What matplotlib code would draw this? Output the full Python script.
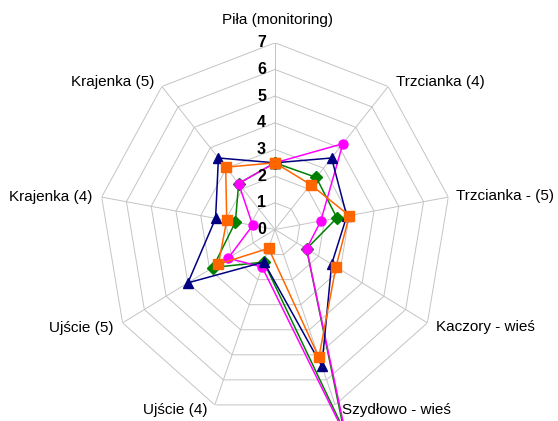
import numpy as np
import matplotlib
matplotlib.use("Agg")
import matplotlib.pyplot as plt

plt.rcParams['font.family'] = ['Liberation Sans', 'DejaVu Sans']

# categories, clockwise from the top
categories = ["Piła (monitoring)", "Trzcianka (4)", "Trzcianka - (5)", "Kaczory - wieś",
              "Szydłowo - wieś", "Ujście (4)", "Ujście (5)", "Krajenka (4)", "Krajenka (5)"]

# series values
navy_vals = [2.5, 3.5, 2.9, 2.6, 5.45, 1.3, 4.0, 2.4, 3.5]
orange_vals = [2.5, 2.2, 3.0, 2.8, 5.1, 0.75, 2.6, 1.95, 3.05]
green_vals = [2.5, 2.55, 2.5, 1.45, 8.0, 1.3, 2.85, 1.6, 2.25]
magenta_vals = [2.5, 4.2, 1.85, 1.45, 8.3, 1.5, 2.15, 0.9, 2.25]

rings = [0, 1, 2, 3, 4, 5, 6, 7]

n = len(categories)
angles = np.arange(n) * 2 * np.pi / n
closed = np.append(angles, angles[0])

W, H = 558, 421
fig = plt.figure(figsize=(W / 100, H / 100), dpi=100)
# chart is a bit stretched vertically in the original
cx, cy = 275, 229.5
rx, ry = 176, 186.7
ax = fig.add_axes([(cx - rx) / W, (H - cy - ry) / H, 2 * rx / W, 2 * ry / H], projection='polar')
ax.set_aspect('auto')
ax.set_theta_zero_location('N')
ax.set_theta_direction(-1)
ax.set_ylim(0, 7)
ax.set_xticks([])
ax.set_yticks([])
ax.grid(False)
ax.spines['polar'].set_visible(False)

gridc = '#c4c4c4'
for r in rings[1:]:
    ax.plot(closed, [r] * (n + 1), color=gridc, lw=0.7, zorder=1)
for a in angles:
    ax.plot([a, a], [0, 7], color=gridc, lw=0.7, zorder=1)

def close(v):
    return list(v) + [v[0]]

series = [
    (green_vals, '#008000', 'D', 6),
    (magenta_vals, '#ff00ff', 'o', 6.5),
    (navy_vals, '#000080', '^', 7.5),
    (orange_vals, '#ff6600', 's', 6.5),
]
for i, (vals, col, mk, ms) in enumerate(series):
    ax.plot(closed, close(vals), color=col, lw=1.1, marker=mk, markersize=ms,
            markeredgecolor=col, markerfacecolor=col, clip_on=False, zorder=3 + i)

# radial tick labels
for r in rings:
    ax.annotate(str(r), xy=(0, r), xytext=(-9, 0), textcoords='offset pixels',
                ha='right', va='center', fontsize=11.5, fontweight='bold', zorder=10)

# category labels
offsets = [(2, 23), (8, 4), (8, 1), (9, -4), (7, -5), (-7, -5), (-9, -5), (-9, 0), (-7, 4)]
for a, lab, (dx, dy) in zip(angles, categories, offsets):
    if dx == 2:
        ha = 'center'
    elif dx > 0:
        ha = 'left'
    else:
        ha = 'right'
    ax.annotate(lab, xy=(a, 7), xytext=(dx, dy), textcoords='offset pixels',
                ha=ha, va='center', fontsize=11, annotation_clip=False)

fig.savefig('out.png', dpi=100)
